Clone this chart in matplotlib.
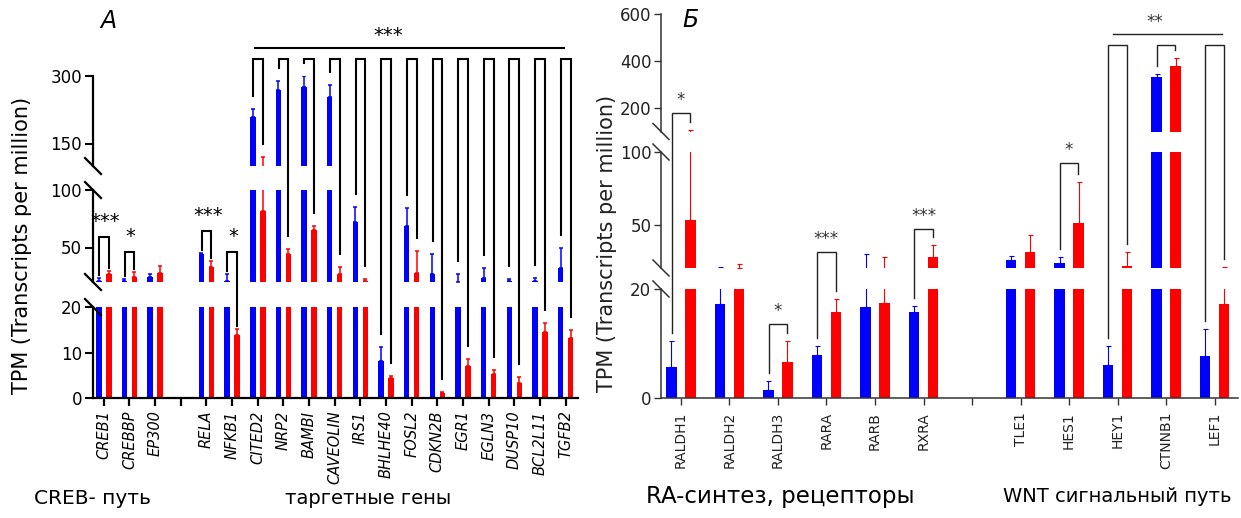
import numpy as np
import matplotlib
matplotlib.use("Agg")
import matplotlib.pyplot as plt
from matplotlib.lines import Line2D

plt.rcParams['font.family'] = ['DejaVu Sans']

# ---------------- data ----------------
nan = np.nan
# Panel A (blank slot separates CREB pathway from NF-kB / target genes)
genes_a = ['CREB1', 'CREBBP', 'EP300', '', 'RELA', 'NFKB1', 'CITED2', 'NRP2', 'BAMBI',
           'CAVEOLIN', 'IRS1', 'BHLHE40', 'FOSL2', 'CDKN2B', 'EGR1', 'EGLN3', 'DUSP10',
           'BCL2L11', 'TGFB2']
blue_a = [21.0, 20.6, 24.6, nan, 44.3, 20.5, 208, 270, 276, 254, 72, 8.1, 68.7, 27,
          20.4, 23.7, 20.8, 20.8, 32.4]
blue_a_top = [23.7, 22.6, 26.7, nan, 45.5, 27, 226, 290, 300, 280, 85.5, 11.1, 84.6, 44,
              26.7, 31.9, 22.3, 23.7, 49.8]
red_a = [27, 24.3, 28, nan, 33.3, 13.8, 82, 44.3, 65.2, 27, 21, 4.3, 28, 1.2, 7.1, 5.2,
         3.2, 14.4, 13.2]
red_a_top = [29.8, 29, 34, nan, 38.5, 15.1, 120.7, 48.4, 69, 33.3, 23, 4.8, 47.2, 1.4,
             8.6, 6.2, 4.7, 16.5, 14.9]

# Panel B
genes_b = ['RALDH1', 'RALDH2', 'RALDH3', 'RARA', 'RARB', 'RXRA', '', 'TLE1', 'HES1',
           'HEY1', 'CTNNB1', 'LEF1']
blue_b = [5.7, 17.2, 1.5, 7.9, 16.7, 15.8, nan, 25.7, 23.6, 6.0, 332, 7.7]
blue_b_top = [10.5, 20.4, 3.1, 9.5, 29.9, 16.9, nan, 28.5, 27.8, 9.5, 345, 12.7]
red_b = [52.8, 20.0, 6.6, 15.8, 17.4, 27.8, nan, 31.2, 51, 21.5, 379, 17.2]
red_b_top = [108, 22.8, 10.5, 18.2, 27.8, 36, nan, 43, 79, 31, 413, 20.5]

# significance annotations: (category index, bracket height, label)
sig_a_pairs = [(0, 58.9, '***'), (1, 45.8, '*'), (4, 64.3, '***'), (5, 45.8, '*')]
sig_a_group = list(range(6, 19))
sig_b_pairs = [(0, 177, '*'), (2, 13.5, '*'), (3, 31.3, '***'), (5, 46.9, '***'), (8, 92.7, '*')]
sig_b_group = [9, 10, 11]

BLUE = '#0000ff'
RED = '#ff0000'

# ---------------- layout ----------------
W, H = 1241, 518
fig = plt.figure(figsize=(W / 100, H / 100), dpi=100)


def add_ax(x0, x1, y0, y1):
    return fig.add_axes([x0 / W, 1 - y1 / H, (x1 - x0) / W, (y1 - y0) / H])


def build_panel(xpix, segs, xlim, ticks, labels, italic, style):
    axes = []
    for k, ((y0, y1), ylim, yt) in enumerate(zip(segs['pix'], segs['lim'], ticks)):
        ax = add_ax(xpix[0], xpix[1], y0, y1)
        ax.patch.set_alpha(0)
        ax.set_xlim(*xlim)
        ax.set_ylim(*ylim)
        ax.set_yticks(yt)
        ax.set_yticklabels([str(t) for t in yt])
        for s in ['top', 'right']:
            ax.spines[s].set_visible(False)
        ax.spines['left'].set_linewidth(style['spw'])
        ax.spines['left'].set_color(style['axc'])
        ax.spines['bottom'].set_linewidth(style['spw'])
        ax.spines['bottom'].set_color(style['axc'])
        ax.tick_params(axis='y', length=style['tl'], width=style['tw'], colors=style['axc'],
                       labelsize=style['yfs'], labelcolor=style['labc'], pad=2)
        if k == 0:
            ax.set_xticks(range(len(labels)))
            ax.set_xticklabels(labels, rotation=90, fontsize=style['xfs'],
                               style='italic' if italic else 'normal', color=style['labc'])
            ax.tick_params(axis='x', length=style['xtl'], width=style['xtw'],
                           colors=style['axc'], labelcolor=style['labc'], pad=style['xpad'])
        else:
            ax.spines['bottom'].set_visible(False)
            ax.set_xticks([])
        axes.append(ax)
    return axes


def draw_bars(axes, blue, blue_top, red, red_top, style):
    x = np.arange(len(blue), dtype=float)
    b = np.array(blue, float)
    r = np.array(red, float)
    bt = np.array(blue_top, float)
    rt = np.array(red_top, float)
    m = ~np.isnan(b)
    off, wid = 0.195, 0.215
    for ax in axes:
        ax.bar(x[m] - off, b[m], width=wid, color=BLUE, linewidth=0)
        ax.bar(x[m] + off, r[m], width=wid, color=RED, linewidth=0)
        ax.errorbar(x[m] - off, b[m], yerr=[np.zeros(m.sum()), bt[m] - b[m]], fmt='none',
                    ecolor=BLUE, elinewidth=style['elw'], capsize=style['cap'],
                    capthick=style['elw'])
        ax.errorbar(x[m] + off, r[m], yerr=[np.zeros(m.sum()), rt[m] - r[m]], fmt='none',
                    ecolor=RED, elinewidth=style['elw'], capsize=style['cap'],
                    capthick=style['elw'])


def to_fig(axes, lims, x, v):
    """value -> figure fraction via the segment axes containing it"""
    idx = len(axes) - 1
    for k, (lo, hi) in enumerate(lims):
        if v <= hi:
            idx = k
            break
    d = axes[idx].transData.transform((x, v))
    return fig.transFigure.inverted().transform(d)


def fline(xs, ys, **kw):
    fig.add_artist(Line2D(xs, ys, transform=fig.transFigure, **kw))


def bracket(axes, lims, i, top, btop, rtop, gap, style, off=0.19):
    xl = to_fig(axes, lims, i - off, btop)
    xr = to_fig(axes, lims, i + off, rtop)
    yt = to_fig(axes, lims, i, top)[1]
    g = gap / H
    fline([xl[0], xl[0], xr[0], xr[0]], [xl[1] + g, yt, yt, xr[1] + g],
          color=style['brc'], lw=style['brw'], solid_joinstyle='miter')
    return yt


def breaks(xpix, ypix_list, style):
    for y in ypix_list:
        fline([(xpix - 8) / W, (xpix + 8) / W], [1 - (y - 8) / H, 1 - (y + 8) / H],
              color=style['axc'], lw=style['spw'])


# ---------------- Panel A ----------------
style_a = dict(spw=1.6, axc='black', tl=6, tw=1.5, yfs=12, labc='black', xfs=10.5,
               xtl=6, xtw=1.6, xpad=3, elw=1.1, cap=1.6, brc='black', brw=1.5)
segs_a = dict(pix=[(307, 398), (190, 282), (76, 166)], lim=[(0, 20), (20, 100), (100, 300)])
ticks_a = [[0, 10, 20], [50, 100], [150, 300]]
axes_a = build_panel((93, 578), segs_a, (-0.42, 18.48), ticks_a, genes_a, True, style_a)
draw_bars(axes_a, blue_a, blue_a_top, red_a, red_a_top, style_a)
breaks(93, [307, 282, 190, 166], style_a)

for i, top, lab in sig_a_pairs:
    yt = bracket(axes_a, segs_a['lim'], i, top, blue_a_top[i], red_a_top[i], 3, style_a)
    xc = to_fig(axes_a, segs_a['lim'], i + 0.05, top)[0]
    fig.text(xc, yt + 6 / H, lab, ha='center', va='bottom', fontsize=14, color='black')

for i in sig_a_group:
    bracket(axes_a, segs_a['lim'], i, 336.7, blue_a_top[i], red_a_top[i], 13, style_a)
p0 = to_fig(axes_a, segs_a['lim'], sig_a_group[0] - 0.12, 361.6)
p1 = to_fig(axes_a, segs_a['lim'], sig_a_group[-1] - 0.07, 361.6)
fline([p0[0], p1[0]], [p0[1], p1[1]], color='black', lw=1.5)
pt = to_fig(axes_a, segs_a['lim'], 11.1, 361.6)
fig.text(pt[0], pt[1] + 3 / H, '***', ha='center', va='bottom', fontsize=14)

# ---------------- Panel B ----------------
style_b = dict(spw=1.1, axc='#333333', tl=5, tw=1.0, yfs=12, labc='#222222', xfs=10,
               xtl=5, xtw=1.0, xpad=5, elw=0.8, cap=1.8, brc='#222222', brw=1.0)
segs_b = dict(pix=[(289, 398), (152, 268), (14, 131.5)], lim=[(0, 20), (20, 100), (100, 600)])
ticks_b = [[0, 20], [50, 100], [200, 400, 600]]
axes_b = build_panel((661, 1238), segs_b, (-0.41, 11.48), ticks_b, genes_b, False, style_b)
draw_bars(axes_b, blue_b, blue_b_top, red_b, red_b_top, style_b)
breaks(661, [289, 268, 152, 131.5], style_b)

for i, top, lab in sig_b_pairs:
    yt = bracket(axes_b, segs_b['lim'], i, top, blue_b_top[i], red_b_top[i], 8, style_b)
    xc = to_fig(axes_b, segs_b['lim'], i, top)[0]
    fig.text(xc, yt + 4 / H, lab, ha='center', va='bottom', fontsize=12, color='#333333')

for i in sig_b_group:
    bracket(axes_b, segs_b['lim'], i, 468, blue_b_top[i], red_b_top[i], 8, style_b)
p0 = to_fig(axes_b, segs_b['lim'], sig_b_group[0] - 0.1, 513.6)
p1 = to_fig(axes_b, segs_b['lim'], sig_b_group[-1] + 0.15, 513.6)
fline([p0[0], p1[0]], [p0[1], p1[1]], color='#222222', lw=1.0)
pt = to_fig(axes_b, segs_b['lim'], 9.77, 513.6)
fig.text(pt[0], pt[1] + 3 / H, '**', ha='center', va='bottom', fontsize=12, color='#333333')

# ---------------- texts ----------------
ylab = 'TPM (Transcripts per million)'
fig.text(22 / W, 1 - 245 / H, ylab, rotation=90, ha='center', va='center', fontsize=15)
fig.text(607 / W, 1 - 243 / H, ylab, rotation=90, ha='center', va='center', fontsize=15,
         color='#222222')
fig.text(108 / W, 1 - 21 / H, 'А', ha='center', va='center', fontsize=17, style='italic')
fig.text(690 / W, 1 - 20 / H, 'Б', ha='center', va='center', fontsize=17, style='italic')

fig.text(92 / W, 1 - 498 / H, 'CREB- путь', ha='center', va='center', fontsize=14.5)
fig.text(368 / W, 1 - 498 / H, 'таргетные гены', ha='center', va='center', fontsize=14)
fig.text(780 / W, 1 - 497 / H, 'RA-синтез, рецепторы', ha='center', va='center', fontsize=16.5)
fig.text(1117 / W, 1 - 497 / H, 'WNT сигнальный путь', ha='center', va='center', fontsize=14)

fig.savefig('out.png', dpi=100)
